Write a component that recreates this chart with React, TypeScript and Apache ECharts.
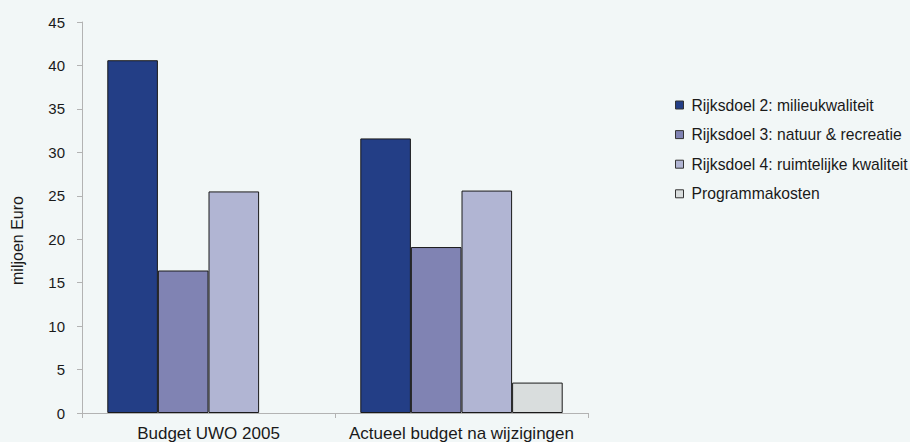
import React, { useEffect, useRef } from "react";
import * as echarts from "echarts";

const categories = ["Budget UWO 2005", "Actueel budget na wijzigingen"];
const seriesNames = [
  "Rijksdoel 2: milieukwaliteit",
  "Rijksdoel 3: natuur & recreatie",
  "Rijksdoel 4: ruimtelijke kwaliteit",
  "Programmakosten",
];
const rijksdoel2 = [40.6, 31.6];
const rijksdoel3 = [16.4, 19.1];
const rijksdoel4 = [25.5, 25.6];
const programmakosten = [null, 3.5];
const colors = ["#233e86", "#8083b3", "#b1b5d3", "#d9dddd"];

export default function App() {
  const ref = useRef<HTMLDivElement>(null);
  useEffect(() => {
    if (!ref.current) return;
    const chart = echarts.init(ref.current, undefined, { renderer: "svg" });
    const values = [rijksdoel2, rijksdoel3, rijksdoel4, programmakosten];
    const arial = "Liberation Sans";
    chart.setOption({
      animation: false,
      backgroundColor: "#f2f7f7",
      textStyle: { fontFamily: arial },
      grid: { left: 82, top: 22, right: 322, bottom: 27, containLabel: false },
      legend: {
        orient: "vertical",
        left: 675,
        top: 97,
        padding: 0,
        itemWidth: 8,
        itemHeight: 8,
        itemGap: 13.6,
        icon: "rect",
        textStyle: { fontSize: 15.7, color: "#1a1a1a", fontFamily: arial, padding: [0, 0, 0, 3] },
        data: seriesNames.map((n) => ({ name: n, itemStyle: { borderColor: "#333", borderWidth: 1 } })),
      },
      xAxis: {
        type: "category",
        data: categories,
        axisLine: { lineStyle: { color: "#b3b3b3", width: 1 } },
        axisTick: { show: true, length: 5, lineStyle: { color: "#b3b3b3" } },
        axisLabel: { interval: 0, fontSize: 17, color: "#1a1a1a", margin: 12, fontFamily: arial },
      },
      yAxis: {
        type: "value",
        min: 0,
        max: 45,
        interval: 5,
        name: "miljoen Euro",
        nameLocation: "middle",
        nameRotate: 90,
        nameGap: 57,
        nameTextStyle: { fontSize: 16, color: "#1a1a1a", fontFamily: arial, padding: [0, 46, 0, 0] },
        axisLine: { show: true, lineStyle: { color: "#b3b3b3", width: 1 } },
        axisTick: { show: true, length: 5, lineStyle: { color: "#b3b3b3" } },
        axisLabel: { fontSize: 15, color: "#1a1a1a", margin: 17, fontFamily: arial },
        splitLine: { show: false },
      },
      series: seriesNames.map((name, i) => ({
        name,
        type: "bar",
        data: values[i],
        barGap: "0%",
        barCategoryGap: "20%",
        itemStyle: { color: colors[i], borderColor: "#1a1a1a", borderWidth: 1 },
      })),
    });
    return () => chart.dispose();
  }, []);
  return <div ref={ref} style={{ position: "fixed", left: 0, top: 0, width: 910, height: 442 }} />;
}
